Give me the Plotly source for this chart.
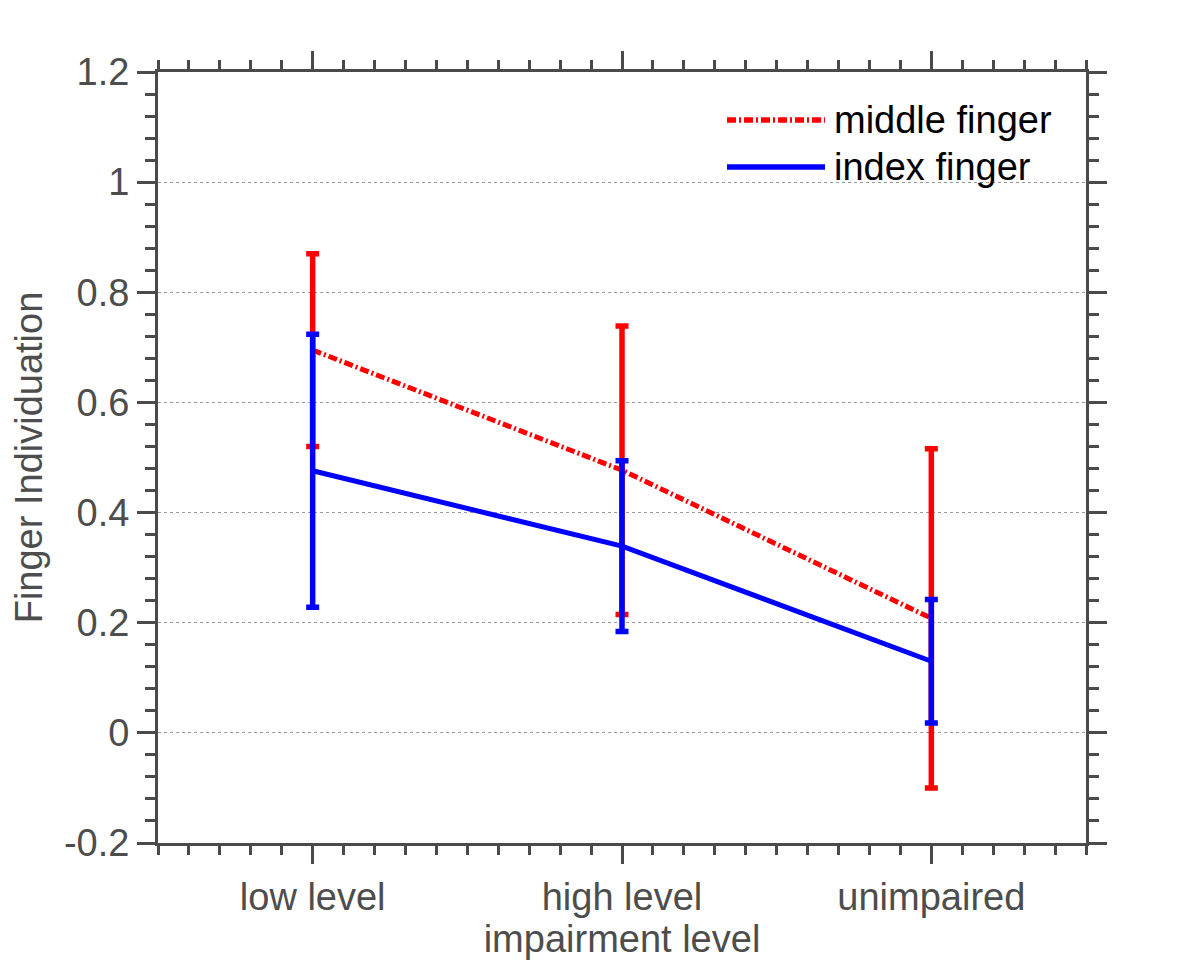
import plotly.graph_objects as go

categories = ["low level", "high level", "unimpaired"]
x_pos = [1, 2, 3]
middle_mean = [0.695, 0.477, 0.208]
middle_err = [0.175, 0.262, 0.308]
index_mean = [0.476, 0.339, 0.130]
index_err = [0.248, 0.155, 0.112]
y_ticks = [-0.2, 0, 0.2, 0.4, 0.6, 0.8, 1, 1.2]
y_ticktext = ["-0.2", "0", "0.2", "0.4", "0.6", "0.8", "1", "1.2"]

RED = "#ff0000"
BLUE = "#0000ff"
AXC = "#4a4a4a"
TXT = "#4d4d4d"
FONT = "Liberation Sans, Arial, sans-serif"
RED_DASH = "9px,3px,2px,3px"

fig = go.Figure()
fig.add_trace(go.Scatter(
    x=x_pos, y=middle_mean, mode="lines", name="middle finger",
    line=dict(color=RED, width=5, dash=RED_DASH),
    error_y=dict(type="data", array=middle_err, visible=True, color=RED, thickness=5.5, width=6.5),
    showlegend=False))
fig.add_trace(go.Scatter(
    x=x_pos, y=index_mean, mode="lines", name="index finger",
    line=dict(color=BLUE, width=5),
    error_y=dict(type="data", array=index_err, visible=True, color=BLUE, thickness=5.5, width=6.5),
    showlegend=False))

# page body has an 8px margin; figure coordinates are offset accordingly
OFF = 8
W, H = 1200 - OFF, 964 - OFF
L, T = 158 - OFF, 72 - OFF
R = W - (1086 - OFF)
B = H - (843 - OFF)
pw, ph = W - L - R, H - T - B
def px(x): return (x - OFF - L) / pw
def py(y): return 1 - (y - OFF - T) / ph

# manual legend (long line samples as in the reference)
legend_items = [("middle finger", RED, RED_DASH, 120), ("index finger", BLUE, "solid", 167)]
for label, col, dash, yy in legend_items:
    fig.add_shape(type="line", xref="paper", yref="paper", x0=px(727), x1=px(825), y0=py(yy), y1=py(yy),
                  line=dict(color=col, width=5.5, dash=dash))
    fig.add_annotation(xref="paper", yref="paper", x=px(832), y=py(yy), text=label, showarrow=False,
                       xanchor="left", yanchor="middle", font=dict(family=FONT, size=38, color="#000000"))

fig.update_layout(
    width=W, height=H,
    margin=dict(l=L, r=R, t=T, b=B),
    paper_bgcolor="white", plot_bgcolor="white",
    font=dict(family=FONT, size=38, color=TXT),
    showlegend=False,
)
fig.update_xaxes(
    range=[0.5, 3.5], tickvals=x_pos, ticktext=categories, automargin=False,
    showline=True, linecolor=AXC, linewidth=3, mirror="ticks",
    ticks="outside", ticklen=18, tickwidth=3, tickcolor=AXC,
    minor=dict(dtick=0.1, tick0=0.5, ticks="outside", ticklen=9, tickwidth=3, tickcolor=AXC, showgrid=False),
    showgrid=False, zeroline=False,
    title=dict(text="impairment level", standoff=0, font=dict(size=38, color=TXT)),
    tickfont=dict(size=38, color=TXT),
)
fig.update_yaxes(
    range=[-0.2, 1.2], tickvals=y_ticks, ticktext=y_ticktext, automargin=False,
    showline=True, linecolor=AXC, linewidth=3, mirror="ticks",
    ticks="outside", ticklen=18, tickwidth=3, tickcolor=AXC,
    minor=dict(dtick=0.04, tick0=0, ticks="outside", ticklen=10, tickwidth=3, tickcolor=AXC, showgrid=False),
    showgrid=True, gridcolor="#9a9a9a", gridwidth=1, griddash="dot",
    zeroline=False,
    title=dict(text="Finger Individuation", standoff=10, font=dict(size=38, color=TXT)),
    tickfont=dict(size=38, color=TXT),
)

fig.write_html("out.html")
